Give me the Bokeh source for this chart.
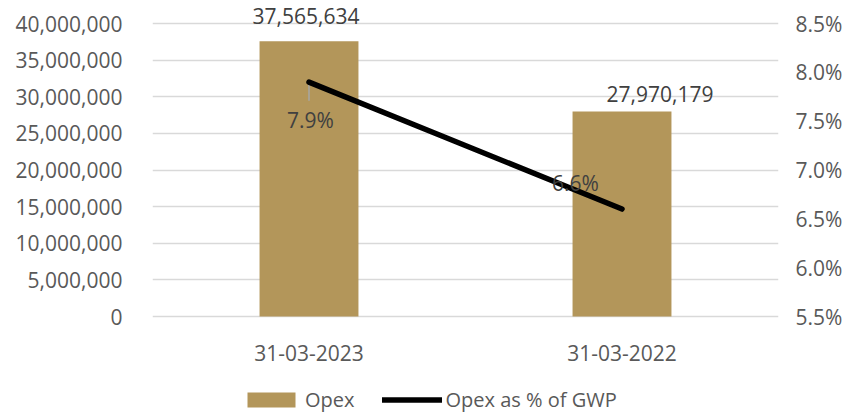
from bokeh.plotting import figure
from bokeh.models import (FactorRange, Range1d, LinearAxis, FixedTicker, NumeralTickFormatter,
                          ColumnDataSource, LabelSet, Legend, LegendItem)
from bokeh.core.properties import value
from bokeh.embed import file_html
from bokeh.resources import INLINE

# ---- data ----
categories = ["31-03-2023", "31-03-2022"]
opex = [37565634, 27970179]
opex_pct_gwp = [0.079, 0.066]
left_ticks = [0, 5000000, 10000000, 15000000, 20000000, 25000000, 30000000, 35000000, 40000000]
right_ticks = [0.055, 0.060, 0.065, 0.070, 0.075, 0.080, 0.085]
left_min, left_max = 0, 40000000
right_min, right_max = 0.055, 0.085

# ---- style / layout (pixels) ----
FONT = "Open Sans"
TXT = "#595959"
LBL = "#404040"
GRID = "#d9d9d9"
BAR = "#b3965a"
FS = "21px"
W, H = 848, 414
TOP, AXIS_BOTTOM = 23, 316          # pixel rows of the top and zero gridlines
plot_px = AXIS_BOTTOM - TOP
extra_lo = (H - AXIS_BOTTOM) / plot_px  # room below the zero line (axis labels + legend)
extra_hi = TOP / plot_px                # room above the top gridline (data label)

def padded(lo, hi):
    span = hi - lo
    return Range1d(lo - extra_lo * span, hi + extra_hi * span)

p = figure(x_range=FactorRange(factors=categories, range_padding=0),
           y_range=padded(left_min, left_max),
           width=W, height=H, output_backend="svg", toolbar_location=None,
           min_border_left=152, min_border_right=70, min_border_top=0, min_border_bottom=0)
p.extra_y_ranges = {"pct": padded(right_min, right_max)}
p.outline_line_color = None
p.background_fill_color = "white"
p.xaxis.visible = False

src = ColumnDataSource(dict(x=categories, opex=opex, pct=opex_pct_gwp, zero=[0, 0],
                            opex_txt=[f"{v:,}" for v in opex],
                            pct_txt=[f"{v*100:.1f}%" for v in opex_pct_gwp],
                            bx=[-3, 38], by=[25, 18],
                            px=[1.5, -46.5], py=[-38, 26]))

bars = p.vbar(x="x", top="opex", bottom="zero", width=0.316, source=src,
              fill_color=BAR, line_color=None)

# leader line for first percentage label
p.segment(x0=[categories[0]], y0=[opex_pct_gwp[0]], x1=[categories[0]],
          y1=[opex_pct_gwp[0] - 0.0019], y_range_name="pct", line_color="#a6a6a6", line_width=1.5)

line = p.line(x="x", y="pct", source=src, y_range_name="pct", line_color="black",
              line_width=5.5, line_cap="round")

# axes
la = p.yaxis[0]
la.ticker = FixedTicker(ticks=left_ticks)
la.formatter = NumeralTickFormatter(format="0,0")
ra = LinearAxis(y_range_name="pct", ticker=FixedTicker(ticks=right_ticks),
                formatter=NumeralTickFormatter(format="0.0%"))
p.add_layout(ra, "right")
for ax in [la, ra]:
    ax.axis_line_color = None
    ax.major_tick_line_color = None
    ax.minor_tick_line_color = None
    ax.major_tick_out = 0
    ax.major_tick_in = 0
    ax.minor_tick_out = 0
    ax.major_label_text_font = FONT
    ax.major_label_text_font_size = FS
    ax.major_label_text_color = TXT
la.major_label_standoff = 30
ra.major_label_standoff = 17

p.xgrid.grid_line_color = None
p.ygrid.grid_line_color = GRID
p.ygrid.grid_line_width = 1.5
p.ygrid.ticker = FixedTicker(ticks=left_ticks)

# category labels (x axis)
p.add_layout(LabelSet(x="x", y="zero", text="x", source=src, y_offset=-36,
                      text_align="center", text_baseline="middle", text_font=value(FONT),
                      text_font_size=value(FS), text_color=TXT))

# data labels
p.add_layout(LabelSet(x="x", y="opex", text="opex_txt", source=src, x_offset="bx", y_offset="by",
                      text_align="center", text_baseline="middle", text_font=value(FONT),
                      text_font_size=value(FS), text_color=LBL))
p.add_layout(LabelSet(x="x", y="pct", text="pct_txt", source=src, y_range_name="pct",
                      x_offset="px", y_offset="py", text_align="center", text_baseline="middle",
                      text_font=value(FONT), text_font_size=value(FS), text_color=LBL))

legend = Legend(items=[LegendItem(label="Opex", renderers=[bars]),
                       LegendItem(label="Opex as % of GWP", renderers=[line])],
                orientation="horizontal", location=(89, 1),
                glyph_width=60, glyph_height=19, label_height=19, label_standoff=4, spacing=27,
                padding=0, margin=0, border_line_color=None, background_fill_alpha=0,
                label_text_font=FONT, label_text_font_size="20px", label_text_color=TXT)
p.add_layout(legend, "center")

open("out.html", "w").write(file_html(p, INLINE))
